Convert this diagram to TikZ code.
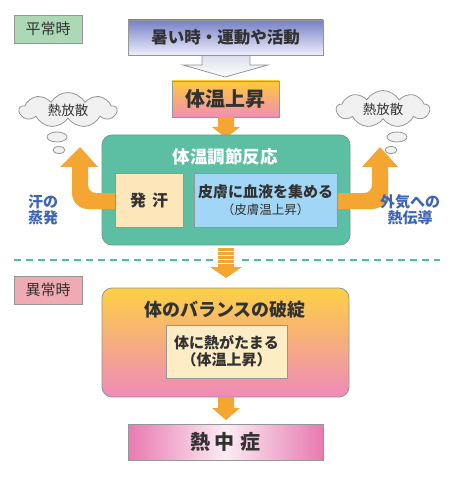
\documentclass[tikz,border=0pt]{standalone}
\usepackage{fontspec}
\setmainfont{Noto Sans CJK JP}
\usetikzlibrary{shapes.symbols}
\definecolor{txt}{RGB}{50,50,50}
\definecolor{orng}{RGB}{245,166,50}
\definecolor{teal}{RGB}{92,190,162}
\definecolor{tealline}{RGB}{80,190,165}
\definecolor{bord}{RGB}{150,150,150}
\definecolor{bluetxt}{RGB}{60,100,185}
\newcommand\fs[1]{\fontsize{#1}{#1}\selectfont}
\tikzset{
  box/.style={draw=bord, line width=0.8pt, rectangle, inner sep=0pt, text=txt, align=center},
  tag/.style={box, minimum width=68pt, minimum height=28pt, font=\fs{15}},
  cloudnode/.style={cloud, cloud puffs=9, cloud puff arc=120, cloud ignores aspect, draw=bord, fill=gray!12, line width=0.8pt, inner sep=0pt, text=txt, font=\fs{13.5}},
  bubble/.style={draw=bord, fill=gray!12, line width=0.8pt},
  sidelabel/.style={text=bluetxt, font=\bfseries\fs{15}, align=center, inner sep=0pt},
  fat/.style={fill=orng, draw=none}
}
\begin{document}
\begin{tikzpicture}[x=1pt,y=-1pt]
\useasboundingbox (0,0) rectangle (450,486);
\fill[white] (0,0) rectangle (450,486);

% labels
\node[tag, fill={rgb,255:red,172;green,216;blue,182}] (normal) at (48,29) {平常時};
\node[tag, fill={rgb,255:red,240;green,170;blue,180}] (abnormal) at (48,290) {異常時};

% big white arrow
\draw[bord, line width=0.8pt, top color={rgb,255:red,215;green,218;blue,232}, bottom color=white]
  (202,52) -- (202,65) -- (183,65) -- (225,77) -- (268,65) -- (250,65) -- (250,52) -- cycle;

\node[box, minimum width=195pt, minimum height=35pt, top color={rgb,255:red,118;green,128;blue,198}, bottom color={rgb,255:red,238;green,238;blue,250}, font=\bfseries\fs{16.5}] (top) at (225.5,37.5) {暑い時・運動や活動};

\node[box, minimum width=107pt, minimum height=36pt, top color={rgb,255:red,252;green,202;blue,58}, bottom color={rgb,255:red,240;green,142;blue,182}, font=\bfseries\fs{20}] (rise) at (225.5,99) {体温上昇};

% arrow rise -> green
\fill[fat] (218,117) -- (218,127) -- (212,127) -- (226,138) -- (240,127) -- (234,127) -- (234,117) -- cycle;

% green box
\node[draw={rgb,255:red,110;green,160;blue,140}, line width=0.8pt, fill=teal, rounded corners=10pt, minimum width=248pt, minimum height=110pt, inner sep=0pt] (green) at (226,190) {};
\node[text=white, font=\bfseries\fs{17.5}, inner sep=0pt] (gtitle) at (225,157) {体温調節反応};

% clouds
\node[cloudnode, minimum width=97pt, minimum height=35pt] (cloudL) at (68,110) {熱放散};
\node[cloudnode, minimum width=93pt, minimum height=37pt] (cloudR) at (383,109) {熱放散};
\draw[bubble] (57,137) ellipse [x radius=10, y radius=5];
\draw[bubble] (59,150) ellipse [x radius=6, y radius=3.5];
\draw[bubble] (397,137) ellipse [x radius=10, y radius=5];
\draw[bubble] (391,150) ellipse [x radius=6, y radius=3.5];

% bent arrows
\fill[fat] (116,193) -- (96,193) .. controls (91.6,193) and (88,189.4) .. (88,185) -- (88,167) -- (98,167) -- (80,147) -- (60,167) -- (72,167) -- (72,193) .. controls (72,201.8) and (79.2,209) .. (88,209) -- (116,209) -- cycle;
\fill[fat] (336,193) -- (364,193) .. controls (368.4,193) and (372,189.4) .. (372,185) -- (372,167) -- (362,167) -- (380,147) -- (398,167) -- (388,167) -- (388,193) .. controls (388,201.8) and (380.8,209) .. (372,209) -- (336,209) -- cycle;

% inner boxes
\node[box, fill={rgb,255:red,253;green,231;blue,186}, minimum width=68pt, minimum height=54pt, font=\bfseries\fs{16}] (sweat) at (149,200) {発\hspace{6pt}汗};
\node[box, fill={rgb,255:red,162;green,214;blue,246}, minimum width=143pt, minimum height=54pt] (skin) at (265.5,200) {{\bfseries\fs{15}皮膚に血液を集める}\\[4pt]{\fs{12.5}（皮膚温上昇）}};

\node[sidelabel] (evap) at (43,210) {汗の\\[1pt]蒸発};
\node[sidelabel] (cond) at (410,210) {外気への\\[1pt]熱伝導};

% dashed line
\draw[tealline, line width=2.5pt, dash pattern=on 7pt off 5pt] (14,260) -- (440,260);
\fill[white] (214,247) rectangle (237,268);
\foreach \y in {248,252,256,260,264} {\fill[fat] (218,\y) rectangle (234,\y+2.6);}
\fill[fat] (210,267) -- (226,278) -- (242,267) -- cycle;

% abnormal block
\node[draw=bord, line width=0.8pt, rounded corners=10pt, minimum width=247pt, minimum height=109pt, inner sep=0pt, top color={rgb,255:red,253;green,208;blue,68}, bottom color={rgb,255:red,238;green,138;blue,186}] (big) at (225.5,342.5) {};
\node[text=txt, font=\bfseries\fs{18}, inner sep=0pt] (btitle) at (225,310) {体のバランスの破綻};
\node[box, fill={rgb,255:red,253;green,236;blue,196}, minimum width=121pt, minimum height=53pt, font=\bfseries\fs{15}] (inner) at (226.5,351.5) {体に熱がたまる\\[2pt]（体温上昇）};

\fill[fat] (218,397) -- (218,408) -- (212,408) -- (226,420) -- (240,408) -- (234,408) -- (234,397) -- cycle;

\node[box, minimum width=195pt, minimum height=36pt, left color={rgb,255:red,232;green,122;blue,176}, right color={rgb,255:red,232;green,122;blue,176}, middle color={rgb,255:red,252;green,236;blue,244}, font=\bfseries\fs{20}] (heat) at (225.5,442) {熱\hspace{4pt}中\hspace{6pt}症};
\end{tikzpicture}
\end{document}
